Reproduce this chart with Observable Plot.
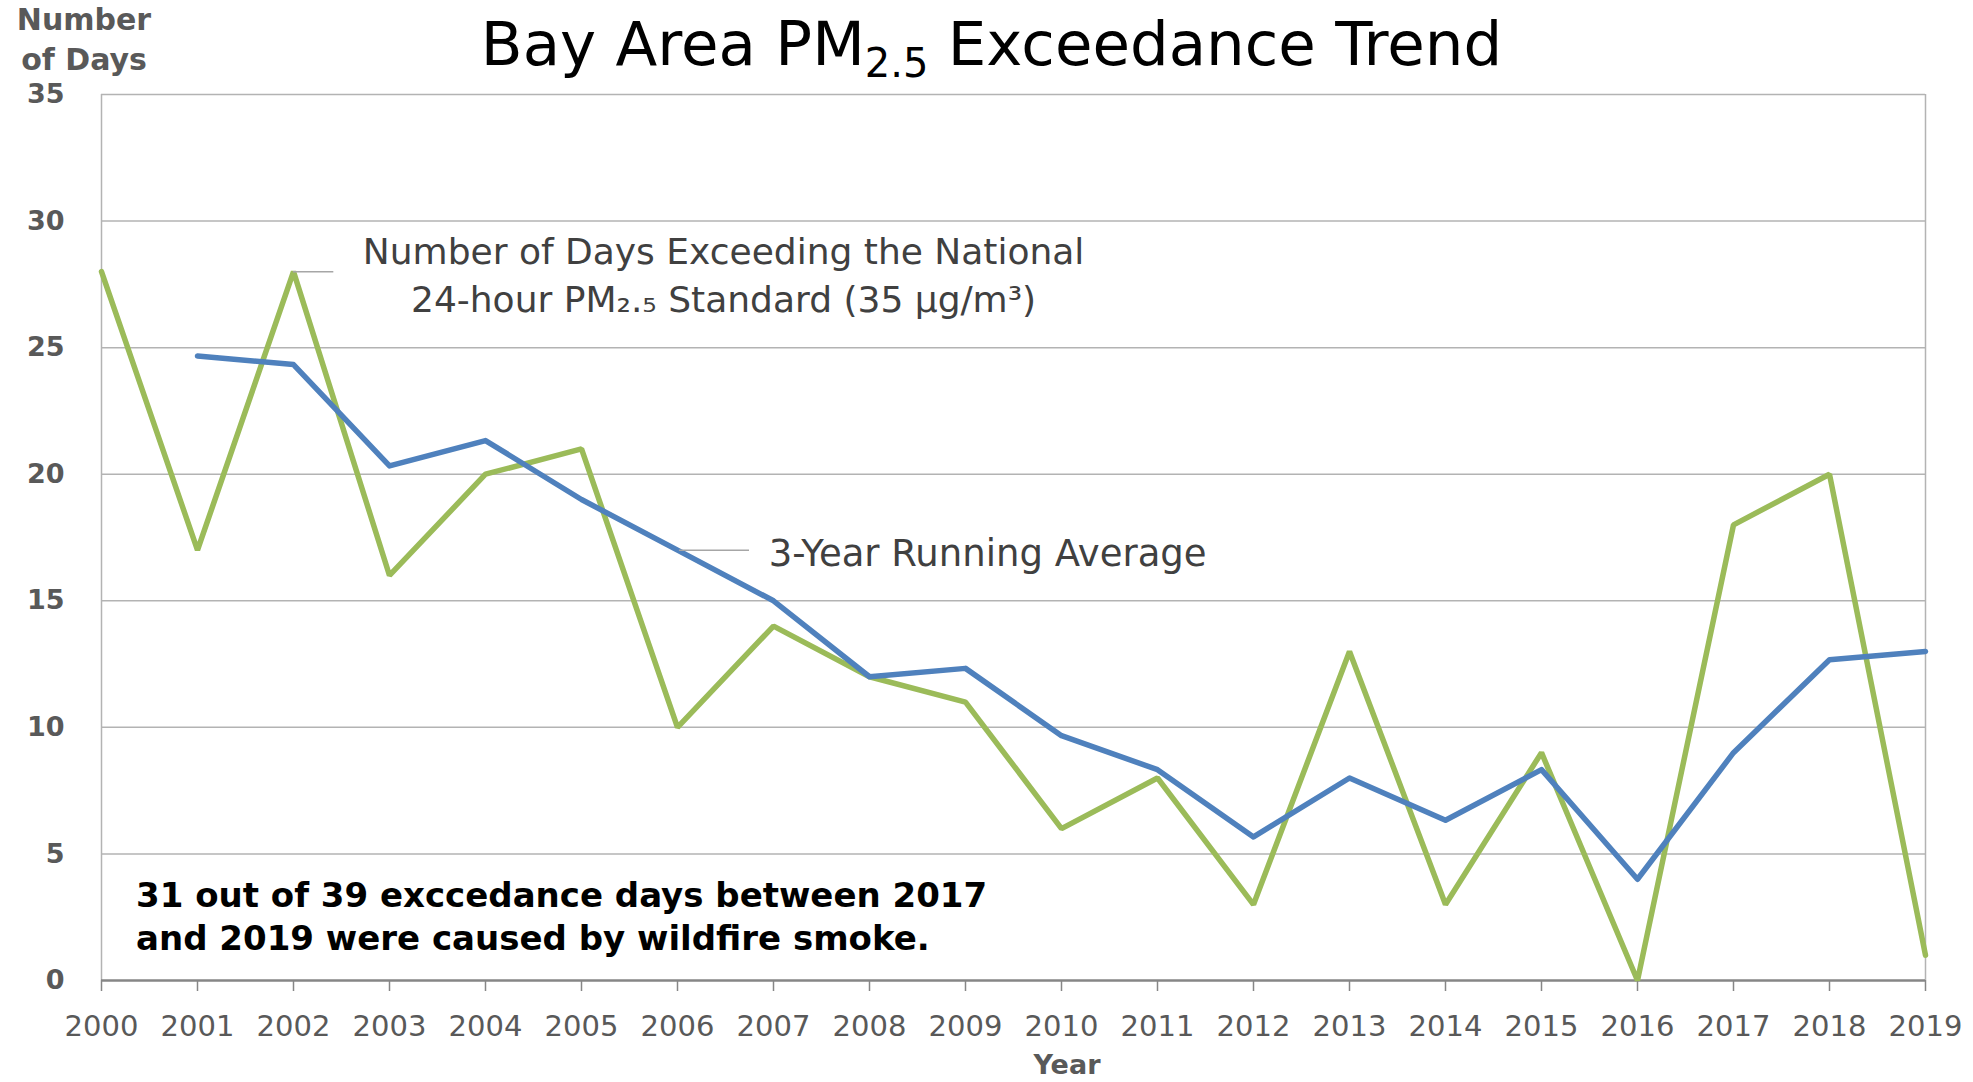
<!DOCTYPE html>
<html>
<head>
<meta charset="utf-8">
<script src="https://cdn.jsdelivr.net/npm/d3@7"></script>
<script src="https://cdn.jsdelivr.net/npm/@observablehq/plot@0.6"></script>
<style>
  html, body { margin: 0; padding: 0; background: #fff; }
  #wrap { position: relative; width: 1973px; height: 1082px; overflow: hidden; font-family: "DejaVu Sans", sans-serif; }
  #title { position: absolute; left: 0; width: 1983px; top: 0px; text-align: center; font-size: 61px; color: #000; line-height: 88px; white-space: nowrap; }
  #title sub { font-size: 40px; vertical-align: -12px; line-height: 0; }
  #ylab { position: absolute; left: 14px; top: 0px; width: 140px; text-align: center; font-weight: 700; font-size: 30px; color: #595959; line-height: 40px; }
  #note { position: absolute; left: 136px; top: 874px; font-weight: 700; font-size: 34px; color: #000; line-height: 43px; white-space: nowrap; }
  #xlab { position: absolute; left: 1067px; top: 1054px; transform: translateX(-50%); font-weight: 700; font-size: 27px; line-height: 22px; color: #595959; }
</style>
</head>
<body>
<div id="wrap">
  <div id="chart"></div>
  <div id="title">Bay Area PM<sub>2.5</sub> Exceedance Trend</div>
  <div id="ylab">Number<br>of Days</div>
  <div id="note">31 out of 39 exccedance days between 2017<br>and 2019 were caused by wildfire smoke.</div>
  <div id="xlab">Year</div>
</div>
<script>
const years = [2000,2001,2002,2003,2004,2005,2006,2007,2008,2009,2010,2011,2012,2013,2014,2015,2016,2017,2018,2019];
const exceedanceDays = [28,17,28,16,20,21,10,14,12,11,6,8,3,13,3,9,0,18,20,1];
const avgYears = [2001,2002,2003,2004,2005,2006,2007,2008,2009,2010,2011,2012,2013,2014,2015,2016,2017,2018,2019];
const runningAvg = [24.67,24.33,20.33,21.33,19,17,15,12,12.33,9.67,8.33,5.67,8,6.33,8.33,4,9,12.67,13];
const yTicks = [0,5,10,15,20,25,30,35];

const annual = years.map((y, i) => ({year: y, days: exceedanceDays[i]}));
const avg = avgYears.map((y, i) => ({year: y, days: runningAvg[i]}));

const GREEN = "#9BBB59", BLUE = "#4F81BD", GRID = "#B3B3B3";

const chart = Plot.plot({
  width: 1973,
  height: 1082,
  marginTop: 94,
  marginBottom: 102,
  marginLeft: 101,
  marginRight: 48,
  style: {fontFamily: "DejaVu Sans, sans-serif", background: "#fff"},
  x: {domain: [2000, 2019], label: null},
  y: {domain: [0, 35], label: null},
  marks: [
    Plot.ruleY(yTicks.filter(d => d > 0), {stroke: GRID, strokeWidth: 1.5}),
    Plot.ruleX([2000, 2019], {stroke: GRID, strokeWidth: 1.5}),
    Plot.axisY({ticks: yTicks, tickSize: 0, tickPadding: 37, fontSize: 27, fontWeight: 700, fill: "#595959", label: null}),
    Plot.axisX({ticks: years, tickFormat: d => String(d), tickSize: 11, tickPadding: 24, fontSize: 29, fill: "#595959", stroke: "#868686", strokeWidth: 1.5, label: null}),
    Plot.ruleY([0], {stroke: "#868686", strokeWidth: 2.5}),
    Plot.line(annual, {x: "year", y: "days", stroke: GREEN, strokeWidth: 5.5, strokeLinejoin: "miter"}),
    Plot.line(avg, {x: "year", y: "days", stroke: BLUE, strokeWidth: 5.5, strokeLinejoin: "round"}),
    Plot.ruleY([28], {x1: 2002, x2: 2002.42, stroke: "#A6A6A6", strokeWidth: 1.5}),
    Plot.ruleY([17], {x1: 2006.02, x2: 2006.75, stroke: "#A6A6A6", strokeWidth: 1.5}),
    Plot.text(["Number of Days Exceeding the National\n24-hour PM\u2082.\u2085 Standard (35 \u00B5g/m\u00B3)"], {x: 2006.48, y: 27.97, fontSize: 36, fill: "#404040", lineHeight: 1.33, textAnchor: "middle"}),
    Plot.text(["3-Year Running Average"], {x: 2006.95, y: 17, dy: 4, fontSize: 37, fill: "#404040", textAnchor: "start"})
  ]
});
document.getElementById("chart").appendChild(chart);
</script>
</body>
</html>
